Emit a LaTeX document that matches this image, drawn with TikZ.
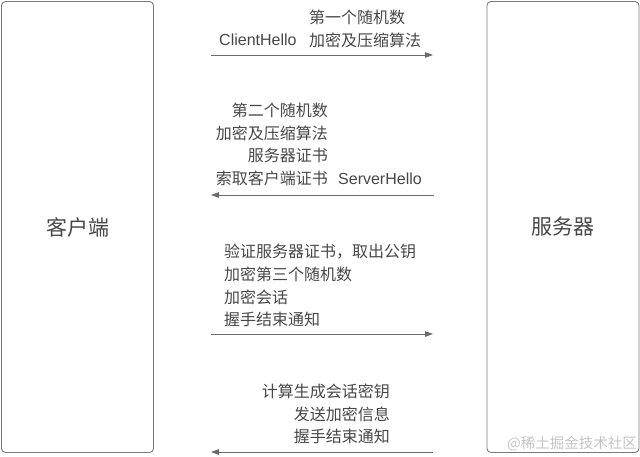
\documentclass[tikz,border=0pt]{standalone}
\usepackage{fontspec}
\setmainfont{Noto Sans CJK SC}
\newfontfamily\latfont{Liberation Sans}
\usetikzlibrary{arrows.meta}
\definecolor{edgec}{HTML}{7A7A7A}
\definecolor{txtc}{HTML}{474747}
\definecolor{arrowc}{HTML}{6A6A6A}
\definecolor{wmc}{HTML}{C4C4C4}
\begin{document}
\begin{tikzpicture}[x=1pt,y=-1pt,
  party/.style={draw=edgec, line width=0.9pt, rounded corners=4pt, minimum width=152pt, minimum height=451pt, inner sep=0pt, text=txtc, font=\fontsize{21}{24}\selectfont},
  msg/.style={font=\fontsize{16}{22.8}\selectfont, text=txtc, inner sep=0pt},
  latmsg/.style={font=\latfont\fontsize{16}{20}\selectfont, text=txtc, inner sep=0pt},
  flow/.style={draw=arrowc, line width=0.9pt, -{Triangle[length=8pt,width=5.5pt]}},
  wm/.style={font=\fontsize{14.5}{16}\selectfont, text=wmc, inner sep=0pt}]
\useasboundingbox (0,0) rectangle (640,456);
% parties
\node[party] (client) at (77.5,227) {客户端};
\node[party] (server) at (563,227) {服务器};
% message 1
\node[msg, align=left, anchor=west] (m1) at (309,29) {第一个随机数\\加密及压缩算法};
\node[latmsg, anchor=west] (m1l) at (219,40) {ClientHello};
\coordinate (a1s) at (211,55);
\coordinate (a1e) at (433,55);
\draw[flow] (a1s) -- (a1e);
% message 2
\node[msg, align=right, anchor=east] (m2) at (328,144.5) {第二个随机数\\加密及压缩算法\\服务器证书\\索取客户端证书};
\node[latmsg, anchor=west] (m2l) at (338,179) {ServerHello};
\coordinate (a2s) at (434,195);
\coordinate (a2e) at (211,195);
\draw[flow] (a2s) -- (a2e);
% message 3
\node[msg, align=left, anchor=west] (m3) at (224,285.5) {验证服务器证书，取出公钥\\加密第三个随机数\\加密会话\\握手结束通知};
\coordinate (a3s) at (211,334);
\coordinate (a3e) at (433,334);
\draw[flow] (a3s) -- (a3e);
% message 4
\node[msg, align=right, anchor=east] (m4) at (390,414) {计算生成会话密钥\\发送加密信息\\握手结束通知};
\coordinate (a4s) at (433,452);
\coordinate (a4e) at (211,452);
\draw[flow] (a4s) -- (a4e);
% watermark
\node[wm, anchor=east] (wmark) at (637,444) {@稀土掘金技术社区};
\end{tikzpicture}
\end{document}
